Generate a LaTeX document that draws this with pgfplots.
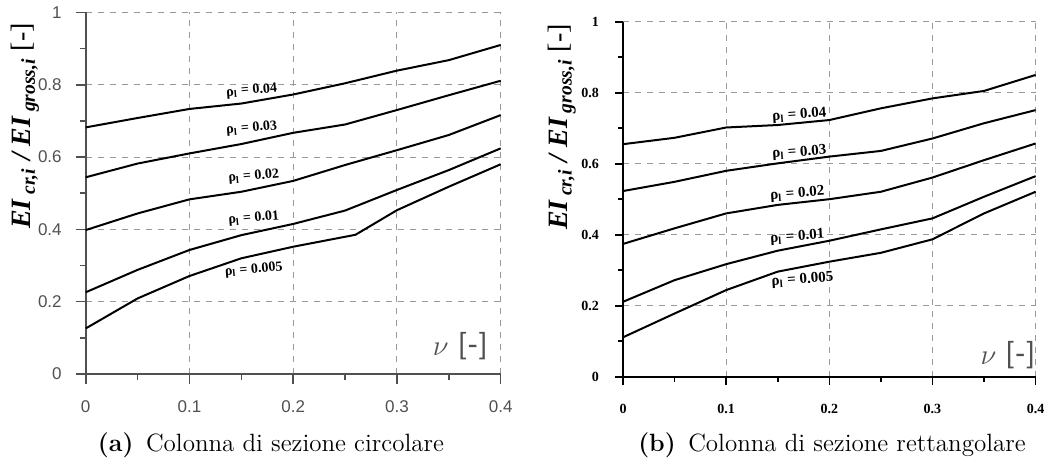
\documentclass[border=0pt]{standalone}
\usepackage{pgfplots}
\pgfplotsset{compat=1.18}
\usepackage{fontspec}
\newfontfamily\lserif{Liberation Serif}
\newfontfamily\lsans{Liberation Sans}
\newfontfamily\carl{Carlito}
\definecolor{axgray}{HTML}{505050}
\pgfplotsset{
  base/.style={
    scale only axis, clip=false,
    xmin=0, xmax=0.4, ymin=0, ymax=1,
    axis lines=left, axis line style={-},
    xtick={0,0.1,0.2,0.3,0.4}, ytick={0,0.2,0.4,0.6,0.8,1},
    minor x tick num=1, minor y tick num=1,
    tick align=outside, major tick length=5pt, minor tick length=3pt,
    grid=major, major grid style={dashed, black!40, line width=0.5pt},
    /pgf/number format/assume math mode=true,
    cycle list={{black}},
    every axis plot/.append style={line width=1pt, line join=round, mark=none},
  }
}
\begin{document}
\begin{tikzpicture}[x=1pt,y=1pt]
\useasboundingbox (0,0) rectangle (524,-236);
% ---------------- left
\begin{axis}[base,
  at={(42.85pt,-187pt)}, anchor=south west,
  width=207.5pt, height=180.8pt,
  axis line style={axgray, line width=0.8pt},
  tick style={axgray, line width=0.8pt},
  ticklabel style={font=\lsans\fontsize{8.5}{10}\selectfont, text=axgray},
  xticklabel style={yshift=-5pt},
  yticklabel style={xshift=-3.5pt},
]
\addplot coordinates {(0,0.682)(0.05,0.708)(0.1,0.733)(0.15,0.748)(0.2,0.773)(0.25,0.804)(0.3,0.839)(0.35,0.868)(0.4,0.910)};
\addplot coordinates {(0,0.544)(0.05,0.582)(0.1,0.610)(0.15,0.636)(0.2,0.667)(0.25,0.690)(0.3,0.730)(0.35,0.771)(0.4,0.811)};
\addplot coordinates {(0,0.398)(0.05,0.444)(0.1,0.483)(0.15,0.504)(0.2,0.534)(0.25,0.578)(0.3,0.619)(0.35,0.661)(0.4,0.716)};
\addplot coordinates {(0,0.226)(0.05,0.288)(0.1,0.343)(0.15,0.384)(0.2,0.415)(0.25,0.452)(0.3,0.509)(0.35,0.564)(0.4,0.624)};
\addplot coordinates {(0,0.126)(0.05,0.209)(0.1,0.271)(0.15,0.320)(0.2,0.352)(0.26,0.385)(0.3,0.453)(0.35,0.518)(0.4,0.580)};
\begin{scope}[every node/.style={font=\lserif\bfseries\fontsize{7}{8}\selectfont, rotate=5}]
\node at (axis cs:0.160,0.783) {ρ\textsubscript{l} = 0.04};
\node at (axis cs:0.160,0.679) {ρ\textsubscript{l} = 0.03};
\node at (axis cs:0.162,0.546) {ρ\textsubscript{l} = 0.02};
\node at (axis cs:0.162,0.430) {ρ\textsubscript{l} = 0.01};
\node at (axis cs:0.162,0.288) {ρ\textsubscript{l} = 0.005};
\end{scope}
\node[font=\fontsize{14}{16}\selectfont, text=axgray] at (axis cs:0.361,0.076) {$\nu$\,\,{\carl\fontsize{16}{18}\selectfont [-]}};
\node[rotate=90, font=\lserif\fontsize{14}{16}\selectfont] at (axis description cs:-0.146,0.686)
  {{\bfseries\itshape EI\,\textsubscript{cr,i} / EI\,\textsubscript{gross,i}} [-]};
\end{axis}
% ---------------- right
\begin{axis}[base,
  at={(311.5pt,-188.35pt)}, anchor=south west,
  width=206.3pt, height=177.5pt,
  axis line style={black, line width=0.8pt},
  tick style={black, line width=0.8pt},
  major tick length=4pt, minor tick length=2.5pt,
  ticklabel style={font=\lserif\bfseries\fontsize{7}{9}\selectfont},
  xticklabel style={yshift=-6pt},
  yticklabel style={xshift=-4.5pt},
]
\addplot coordinates {(0,0.655)(0.05,0.673)(0.1,0.702)(0.15,0.709)(0.2,0.723)(0.25,0.756)(0.3,0.784)(0.35,0.805)(0.4,0.850)};
\addplot coordinates {(0,0.523)(0.05,0.549)(0.1,0.580)(0.15,0.601)(0.2,0.620)(0.25,0.636)(0.3,0.671)(0.35,0.714)(0.4,0.751)};
\addplot coordinates {(0,0.374)(0.05,0.418)(0.1,0.460)(0.15,0.484)(0.2,0.500)(0.25,0.521)(0.3,0.561)(0.35,0.610)(0.4,0.657)};
\addplot coordinates {(0,0.211)(0.05,0.272)(0.1,0.317)(0.15,0.355)(0.2,0.383)(0.25,0.415)(0.3,0.446)(0.35,0.507)(0.4,0.565)};
\addplot coordinates {(0,0.111)(0.05,0.178)(0.1,0.244)(0.15,0.296)(0.2,0.324)(0.25,0.349)(0.3,0.387)(0.35,0.460)(0.4,0.521)};
\begin{scope}[every node/.style={font=\lserif\bfseries\fontsize{7.5}{8}\selectfont, rotate=4}]
\node at (axis cs:0.171,0.737) {ρ\textsubscript{l} = 0.04};
\node at (axis cs:0.171,0.631) {ρ\textsubscript{l} = 0.03};
\node at (axis cs:0.169,0.515) {ρ\textsubscript{l} = 0.02};
\node at (axis cs:0.169,0.394) {ρ\textsubscript{l} = 0.01};
\node at (axis cs:0.174,0.272) {ρ\textsubscript{l} = 0.005};
\end{scope}
\node[font=\fontsize{14}{16}\selectfont, text=axgray] at (axis cs:0.373,0.061) {$\nu$\,\,{\carl\fontsize{16}{18}\selectfont [-]}};
\node[rotate=90, font=\lserif\fontsize{14}{16}\selectfont] at (axis description cs:-0.148,0.703)
  {{\bfseries\itshape EI\,\textsubscript{cr,i} / EI\,\textsubscript{gross,i}} [-]};
\end{axis}
% captions
\node[font=\fontsize{12.5}{15}\selectfont] at (135.5,-222.5) {\textbf{(a)}\hspace{0.5em}Colonna di sezione circolare};
\node[font=\fontsize{12.5}{15}\selectfont] at (416,-222.5) {\textbf{(b)}\hspace{0.5em}Colonna di sezione rettangolare};
\end{tikzpicture}
\end{document}
